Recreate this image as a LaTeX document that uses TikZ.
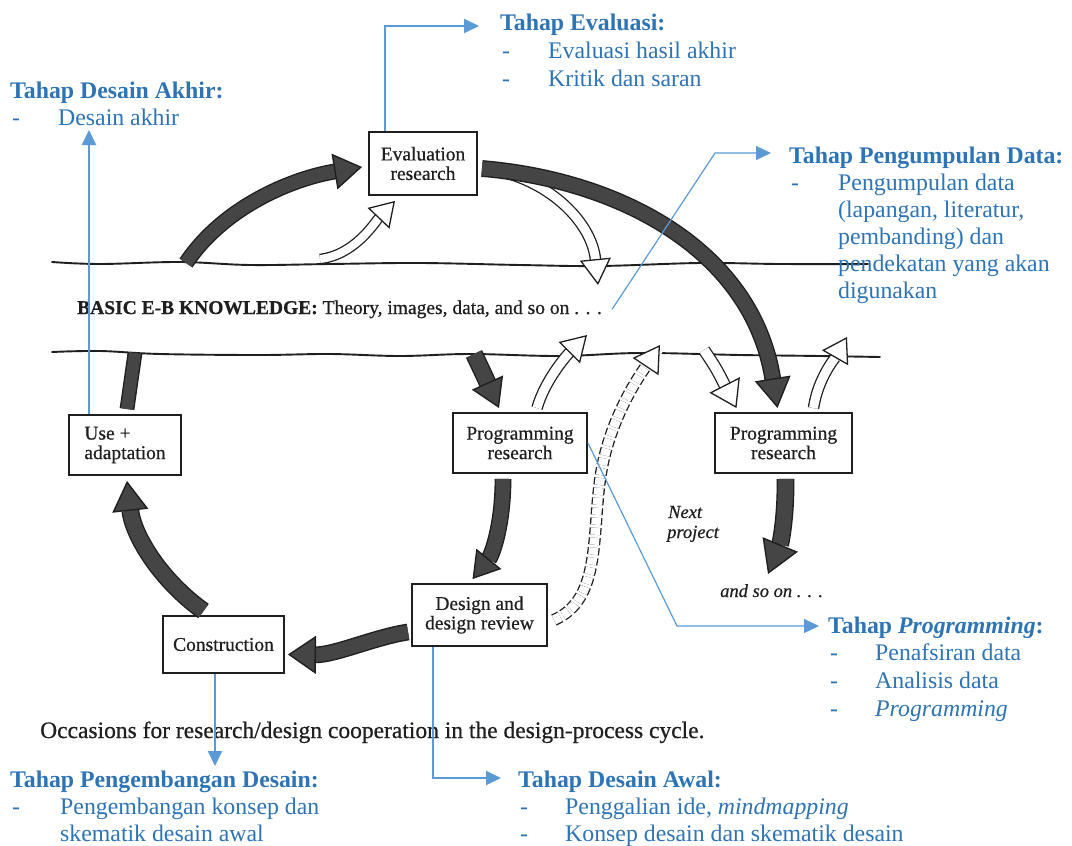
\documentclass[tikz,border=0pt]{standalone}
\usepackage{fontspec}
\setmainfont{Liberation Serif}
\newfontfamily\scanfont{Liberation Serif}[FakeBold=0.6]
\usetikzlibrary{arrows.meta,calc}
\definecolor{tblue}{HTML}{2E74B5}
\definecolor{lblue}{HTML}{5B9BD5}
\definecolor{dkfill}{gray}{0.27}
\definecolor{ink}{gray}{0.12}
\tikzset{
  hd/.style={anchor=base west, inner sep=0pt, text=tblue, font=\fontsize{23.8}{27}\selectfont\bfseries},
  bt/.style={anchor=base west, inner sep=0pt, text=tblue, font=\fontsize{23.8}{27}\selectfont},
  boxn/.style={draw=ink, line width=1.9pt, inner sep=0pt, align=center, text=ink, font=\scanfont\fontsize{19.5}{19.5}\selectfont},
  scan/.style={anchor=base west, inner sep=0pt, text=ink},
  wave/.style={draw=ink, line width=1.9pt, line cap=round},
  darkarrow/.style n args={3}{draw=ink, line width=1.4pt, double=dkfill, double distance=#1,
     -{Triangle[width=#2, length=#3, line width=1.4pt, fill=dkfill]}},
  darkshaft/.style={draw=ink, line width=1.4pt, double=dkfill, double distance=#1},
  whitearrow/.style n args={3}{draw=ink, line width=1.3pt, double=white, double distance=#1,
     -{Triangle[width=#2, length=#3, line width=1.3pt, fill=white]}},
  bline/.style={draw=lblue, line width=2pt, -{Triangle[width=14pt, length=15pt]}},
  thinbline/.style={draw=lblue, line width=1.2pt, -{Triangle[width=14pt, length=15pt]}},
}
\begin{document}
\begin{tikzpicture}[x=1pt, y=-1pt]
\useasboundingbox[fill=white] (0,0) rectangle (1072,846);

% wavy knowledge lines
\draw[wave] plot[smooth, tension=0.6] coordinates {(52,262) (100,264) (180,262) (250,265) (330,264) (420,263) (520,265) (600,266) (700,263) (780,264) (868,264)};
\draw[wave] plot[smooth, tension=0.6] coordinates {(52,352) (100,351) (160,354) (260,355) (330,354) (400,356) (470,354) (560,356) (640,353) (740,355) (820,356) (880,357)};

% boxes
\node[boxn, minimum width=108pt, minimum height=63pt] (eval) at (423,163.5) {Evaluation\\research};
\node[boxn, minimum width=112pt, minimum height=60pt, align=left] (use) at (125,445) {Use +\\adaptation};
\node[boxn, minimum width=134pt, minimum height=60pt] (prog1) at (520,443) {Programming\\research};
\node[boxn, minimum width=137pt, minimum height=60pt] (prog2) at (783.5,443) {Programming\\research};
\node[boxn, minimum width=135pt, minimum height=62pt] (design) at (479.5,615) {Design and\\design review};
\node[boxn, minimum width=121pt, minimum height=57pt] (constr) at (223.5,644.5) {Construction};

% attachment points on the knowledge lines
\coordinate (w1) at (186,263);
\coordinate (w2) at (320,259);
\coordinate (w3) at (598,285);
\coordinate (w4) at (135,353);
\coordinate (w5) at (474,354);
\coordinate (w6) at (587,335);
\coordinate (w7) at (660,345);
\coordinate (w8) at (704,350);
\coordinate (w9) at (847,337);
\coordinate (so) at (768,574);

% white arrows
\draw[whitearrow={8pt}{30pt}{24pt}] (w2) .. controls (355,255) and (375,222) .. ([xshift=-28pt,yshift=-5pt]eval.south);
\draw[whitearrow={9pt}{31pt}{26pt}] ([xshift=23pt,yshift=-8pt]eval.east) .. controls (555,185) and (592,225) .. (w3);
\draw[whitearrow={9pt}{30pt}{25pt}] ([xshift=17pt,yshift=4pt]prog1.north) .. controls (545,380) and (567,355) .. (w6);
\draw[white, line width=12pt] ([xshift=6pt,yshift=-5pt]design.east) .. controls (600,600) and (592,540) .. (600,480) .. controls (608,420) and (640,375) .. (w7);
\draw[whitearrow={9.5pt}{31pt}{26pt}, dash pattern=on 7pt off 3pt] ([xshift=6pt,yshift=-5pt]design.east) .. controls (600,600) and (592,540) .. (600,480) .. controls (608,420) and (640,375) .. (w7);
\draw[whitearrow={10pt}{34pt}{26pt}] (w8) .. controls (716,368) .. ([xshift=-47pt,yshift=4pt]prog2.north);
\draw[whitearrow={9pt}{30pt}{24pt}] ([xshift=30pt,yshift=4pt]prog2.north) .. controls (818,378) and (835,358) .. (w9);

% dark arrows
\draw[darkarrow={13pt}{36pt}{28pt}] (w1) .. controls (225,205) and (295,178) .. ([xshift=-6pt,yshift=-3.5pt]eval.west);
\draw[darkshaft={12pt}] ([xshift=2pt,yshift=5pt]use.north) -- (w4);
\draw[darkarrow={14pt}{36pt}{30pt}] ([xshift=4pt,yshift=-5pt]eval.east) .. controls (620,180) and (752,250) .. ([xshift=-6pt,yshift=4pt]prog2.north);
\draw[darkarrow={15pt}{34pt}{28pt}] (w5) .. controls (484,375) .. ([xshift=-21pt,yshift=4pt]prog1.north);
\draw[darkarrow={14pt}{32pt}{26pt}] ([xshift=-17pt,yshift=-5pt]prog1.south) .. controls (503,525) and (492,555) .. ([xshift=-7pt,yshift=4pt]design.north);
\draw[darkarrow={14pt}{38pt}{28pt}] ([xshift=-3pt,yshift=-17pt]design.west) .. controls (375,637) and (335,655) .. ([xshift=3pt,yshift=-10pt]constr.east);
\draw[darkarrow={15pt}{36pt}{30pt}] ([xshift=-20pt,yshift=4pt]constr.north) .. controls (160,580) and (133,535) .. ([xshift=2pt,yshift=-5pt]use.south);
\draw[darkarrow={15pt}{38pt}{32pt}] ([xshift=2pt,yshift=-5pt]prog2.south) .. controls (786,520) and (780,545) .. (so);

% scanned texts
\node[scan, font=\scanfont\fontsize{19.5}{20}\selectfont] (basic) at (77,314) {\textbf{BASIC E-B KNOWLEDGE:} Theory, images, data, and so on . . .};
\node[scan, font=\scanfont\fontsize{18.5}{19}\selectfont\itshape] (next1) at (668,518) {Next};
\node[scan, font=\scanfont\fontsize{18.5}{19}\selectfont\itshape] (next2) at (667,538) {project};
\node[scan, font=\scanfont\fontsize{18.5}{19}\selectfont\itshape] (andso) at (720,597) {and so on . . .};
\node[scan, font=\scanfont\fontsize{23.5}{24}\selectfont] (caption) at (40,738) {Occasions for research/design cooperation in the design-process cycle.};

% blue annotations
\node[hd] (evalhead) at (500,30) {Tahap Evaluasi:};
\node[bt] (ev1d) at (502,58) {-}; \node[bt] (ev1) at (548,58) {Evaluasi hasil akhir};
\node[bt] (ev2d) at (502,86) {-}; \node[bt] (ev2) at (548,86) {Kritik dan saran};

\node[hd] (akhirhead) at (10,98) {Tahap Desain Akhir:};
\node[bt] (ak1d) at (12,125) {-}; \node[bt] (ak1) at (58,125) {Desain akhir};

\node[hd] (datahead) at (789,163) {Tahap Pengumpulan Data:};
\node[bt] (da1d) at (791,190) {-};
\node[bt] (da1) at (838,190) {Pengumpulan data};
\node[bt] (da2) at (838,217) {(lapangan, literatur,};
\node[bt] (da3) at (838,244) {pembanding) dan};
\node[bt] (da4) at (838,271) {pendekatan yang akan};
\node[bt] (da5) at (838,298) {digunakan};

\node[hd] (proghead) at (828,633) {Tahap \textit{Programming}:};
\node[bt] (pr1d) at (830,660) {-}; \node[bt] (pr1) at (875,660) {Penafsiran data};
\node[bt] (pr2d) at (830,688) {-}; \node[bt] (pr2) at (875,688) {Analisis data};
\node[bt] (pr3d) at (830,716) {-}; \node[bt] (pr3) at (875,716) {\textit{Programming}};

\node[hd] (kembhead) at (10,787) {Tahap Pengembangan Desain:};
\node[bt] (ke1d) at (12,814) {-}; \node[bt] (ke1) at (60,814) {Pengembangan konsep dan};
\node[bt] (ke2) at (60,841) {skematik desain awal};

\node[hd] (awalhead) at (518,787) {Tahap Desain Awal:};
\node[bt] (aw1d) at (520,814) {-}; \node[bt] (aw1) at (565,814) {Penggalian ide, \textit{mindmapping}};
\node[bt] (aw2d) at (520,841) {-}; \node[bt] (aw2) at (565,841) {Konsep desain dan skematik desain};

% blue connectors
\coordinate (c1) at (479,26);
\coordinate (c2) at (89,130);
\coordinate (k3) at (715,153);
\coordinate (c3) at (771,153);
\coordinate (k4) at (677,626);
\coordinate (c4) at (819,626);
\coordinate (c5) at (501,778);
\coordinate (c6) at (215,766);
\draw[bline] ([xshift=-38pt]eval.north) |- (c1);
\draw[bline] ([xshift=-36pt]use.north) -- (c2);
\draw[thinbline] ([xshift=10pt]basic.east) -- (k3) -- (c3);
\draw[thinbline] (prog1.east) -- (k4) -- (c4);
\draw[bline] ([xshift=-46.5pt]design.south) |- (c5);
\draw[bline] ([xshift=-8.5pt]constr.south) -- (c6);
\end{tikzpicture}
\end{document}
